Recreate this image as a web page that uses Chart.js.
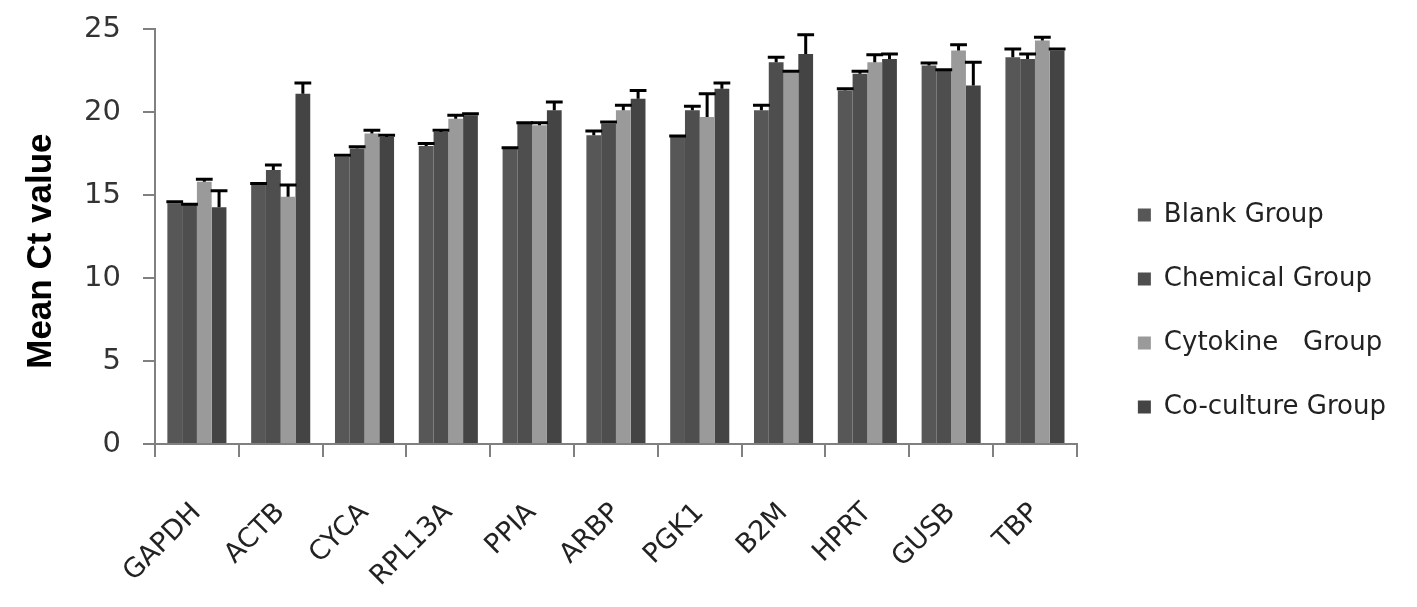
<!DOCTYPE html>
<html>
<head>
<meta charset="utf-8">
<script src="https://cdn.jsdelivr.net/npm/chart.js@4/dist/chart.umd.min.js"></script>
<style>
  html, body { margin: 0; padding: 0; background: #fff; }
  #wrap { width: 1417px; height: 607px; }
</style>
</head>
<body>
<div id="wrap"><canvas id="ctChart"></canvas></div>
<script>
// genes on the x axis
const genes = ["GAPDH", "ACTB", "CYCA", "RPL13A", "PPIA", "ARBP", "PGK1", "B2M", "HPRT", "GUSB", "TBP"];

// mean Ct values per group
const blank     = [14.5, 15.6, 17.3, 17.95, 17.8, 18.6, 18.5, 20.1, 21.3, 22.8, 23.3];
const chemical  = [14.4, 16.5, 17.8, 18.8, 19.3, 19.3, 20.1, 23.0, 22.3, 22.5, 23.2];
const cytokine  = [15.8, 14.9, 18.7, 19.6, 19.2, 20.1, 19.7, 22.4, 23.0, 23.7, 24.3];
const coculture = [14.26, 21.1, 18.5, 19.8, 20.1, 20.8, 21.4, 23.5, 23.2, 21.6, 23.7];

// upper error bars
const blankErr     = [0.1, 0.1, 0.1, 0.15, 0.05, 0.25, 0.05, 0.3, 0.1, 0.15, 0.5];
const chemicalErr  = [0.05, 0.3, 0.1, 0.1, 0.05, 0.1, 0.25, 0.3, 0.15, 0.05, 0.3];
const cytokineErr  = [0.15, 0.7, 0.2, 0.2, 0.15, 0.3, 1.4, 0.05, 0.45, 0.35, 0.2];
const cocultureErr = [1.0, 0.65, 0.1, 0.1, 0.5, 0.5, 0.35, 1.15, 0.3, 1.4, 0.1];

const yTicks = [0, 5, 10, 15, 20, 25];

// draws the error bars on top of each bar
const errorBars = {
  id: "errorBars",
  afterDatasetsDraw(chart) {
    const ctx = chart.ctx;
    const y = chart.scales.y;
    ctx.save();
    ctx.strokeStyle = "#000";
    ctx.lineWidth = 3;
    chart.data.datasets.forEach((ds, i) => {
      const meta = chart.getDatasetMeta(i);
      meta.data.forEach((bar, j) => {
        const top = y.getPixelForValue(ds.data[j] + ds.err[j]);
        const half = bar.width / 2 + 1;
        ctx.beginPath();
        ctx.moveTo(bar.x, bar.y);
        ctx.lineTo(bar.x, top);
        ctx.moveTo(bar.x - half, top);
        ctx.lineTo(bar.x + half, top);
        ctx.stroke();
      });
    });
    ctx.restore();
  }
};

new Chart(document.getElementById("ctChart"), {
  type: "bar",
  data: {
    labels: genes,
    datasets: [
      { label: "Blank Group", data: blank, err: blankErr, backgroundColor: "#575757" },
      { label: "Chemical Group", data: chemical, err: chemicalErr, backgroundColor: "#4e4e4e" },
      { label: "Cytokine   Group", data: cytokine, err: cytokineErr, backgroundColor: "#9a9a9a" },
      { label: "Co-culture Group", data: coculture, err: cocultureErr, backgroundColor: "#444444" }
    ]
  },
  options: {
    responsive: true,
    maintainAspectRatio: false,
    animation: false,
    datasets: { bar: { categoryPercentage: 0.705, barPercentage: 1.0, borderWidth: 0 } },
    layout: { padding: { top: 29, bottom: 14, left: 0, right: 21 } },
    plugins: {
      tooltip: { enabled: false },
      legend: {
        position: "right",
        maxWidth: 420,
        labels: {
          boxWidth: 13,
          boxHeight: 13,
          padding: 38,
          color: "#222",
          font: { family: "DejaVu Sans", size: 26 }
        }
      }
    },
    scales: {
      x: {
        grid: { display: true, drawOnChartArea: false, drawTicks: true, tickLength: 13, color: "#808080", lineWidth: 2 },
        border: { display: true, color: "#808080", width: 2 },
        ticks: {
          minRotation: 45, maxRotation: 45, padding: 40,
          color: "#222", font: { family: "DejaVu Sans", size: 27 }
        },
        afterFit(s) { s.height = 149; }
      },
      y: {
        min: 0, max: 25,
        afterBuildTicks(s) { s.ticks = yTicks.map(v => ({ value: v })); },
        grid: { display: true, drawOnChartArea: false, drawTicks: true, tickLength: 12, color: "#808080", lineWidth: 2 },
        border: { display: true, color: "#808080", width: 2 },
        ticks: { padding: 22, color: "#333", font: { family: "DejaVu Sans", size: 29 } },
        title: {
          display: true, text: "Mean Ct value   ", color: "#000",
          font: { family: "Liberation Sans", size: 35, weight: "bold" },
          padding: { top: 20, bottom: 0 }
        },
        afterFit(s) { s.width = 155; s.paddingTop = 17; s.paddingBottom = 17; }
      },
      // empty spacer between the plot and the legend
      yR: {
        type: "linear", position: "right", display: true,
        grid: { display: false }, border: { display: false }, ticks: { display: false },
        afterFit(s) { s.width = 23; }
      }
    }
  },
  plugins: [errorBars]
});
</script>
</body>
</html>
